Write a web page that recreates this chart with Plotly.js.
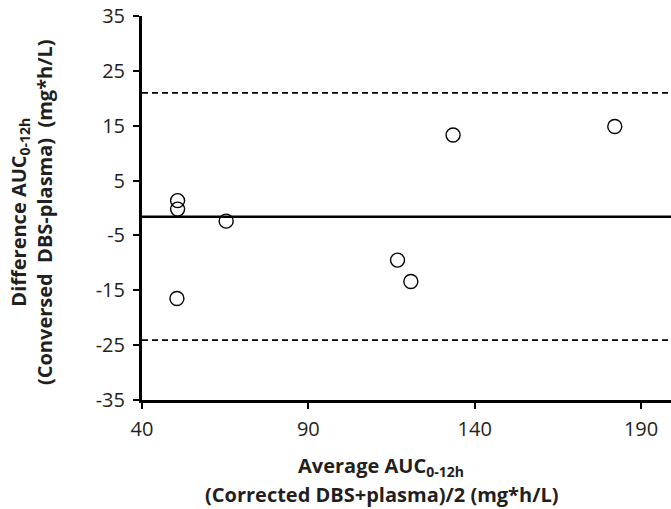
<!DOCTYPE html>
<html>
<head>
<meta charset="utf-8">
<script src="https://cdn.plot.ly/plotly-3.0.1.min.js"></script>
<style>html,body{margin:0;padding:0;background:#fff;}#chart{width:671px;height:509px;}</style>
</head>
<body>
<div id="chart"></div>
<script>
// Bland-Altman data: average AUC vs difference AUC
const averageAUC = [50.7, 50.7, 65.3, 50.5, 116.8, 120.8, 133.5, 182.1];
const differenceAUC = [1.35, -0.2, -2.4, -16.5, -9.5, -13.4, 13.3, 14.85];
const meanDifference = -1.6;
const upperLimit = 21.0;
const lowerLimit = -24.1;
const xTicks = [40, 90, 140, 190];
const yTicks = [-35, -25, -15, -5, 5, 15, 25, 35];
const xTitleLines = ['Average AUC<sub>0-12h</sub>', '(Corrected DBS+plasma)/2 (mg*h/L)'];
const yTitleLines = ['Difference AUC<sub>0-12h</sub>', '(Conversed  DBS-plasma)  (mg*h/L)'];

const FONT = '"Open Sans", "Noto Sans", sans-serif';
const TXT = '#231f20';

const trace = {
  x: averageAUC,
  y: differenceAUC,
  type: 'scatter',
  mode: 'markers',
  marker: {symbol: 'circle-open', size: 14, color: '#000', line: {width: 1.4, color: '#000'}},
  hoverinfo: 'skip',
  showlegend: false
};

function hline(y, dash, w) {
  return {type: 'line', xref: 'paper', x0: 0, x1: 1, yref: 'y', y0: y, y1: y,
          line: {color: '#000', width: w, dash: dash}, layer: 'below'};
}

function title(text, x, y, angle) {
  return {text: '<b>' + text + '</b>', xref: 'paper', yref: 'paper', x: x, y: y,
          xanchor: 'center', yanchor: 'middle', textangle: angle, showarrow: false,
          font: {family: FONT, size: 20, color: TXT}};
}

const layout = {
  width: 671, height: 509,
  margin: {l: 142, r: 0, t: 16, b: 109},
  paper_bgcolor: '#fff', plot_bgcolor: '#fff',
  font: {family: FONT, size: 20, color: TXT},
  xaxis: {
    range: [40, 199], tickmode: 'array', tickvals: xTicks, ticktext: xTicks.map(String),
    showgrid: false, zeroline: false, showline: true, linecolor: '#000', linewidth: 3,
    ticks: 'outside', ticklen: 6, tickwidth: 2, tickcolor: '#000',
    tickfont: {family: FONT, size: 20, color: TXT}, ticklabelstandoff: 3
  },
  yaxis: {
    range: [-35, 35], tickmode: 'array', tickvals: yTicks, ticktext: yTicks.map(String),
    showgrid: false, zeroline: false, showline: true, linecolor: '#000', linewidth: 3,
    ticks: 'outside', ticklen: 6, tickwidth: 2, tickcolor: '#000',
    tickfont: {family: FONT, size: 20, color: TXT}, ticklabelstandoff: 4
  },
  shapes: [
    hline(meanDifference, 'solid', 2.4),
    hline(upperLimit, '6px,4px', 1.8),
    hline(lowerLimit, '6px,4px', 1.8)
  ],
  annotations: [
    title(xTitleLines[0], 0.452, -0.172, 0),
    title(xTitleLines[1], 0.452, -0.245, 0),
    title(yTitleLines[0], -0.231, 0.49, -90),
    title(yTitleLines[1], -0.183, 0.49, -90)
  ]
};

Plotly.newPlot('chart', [trace], layout, {displayModeBar: false});
</script>
</body>
</html>
